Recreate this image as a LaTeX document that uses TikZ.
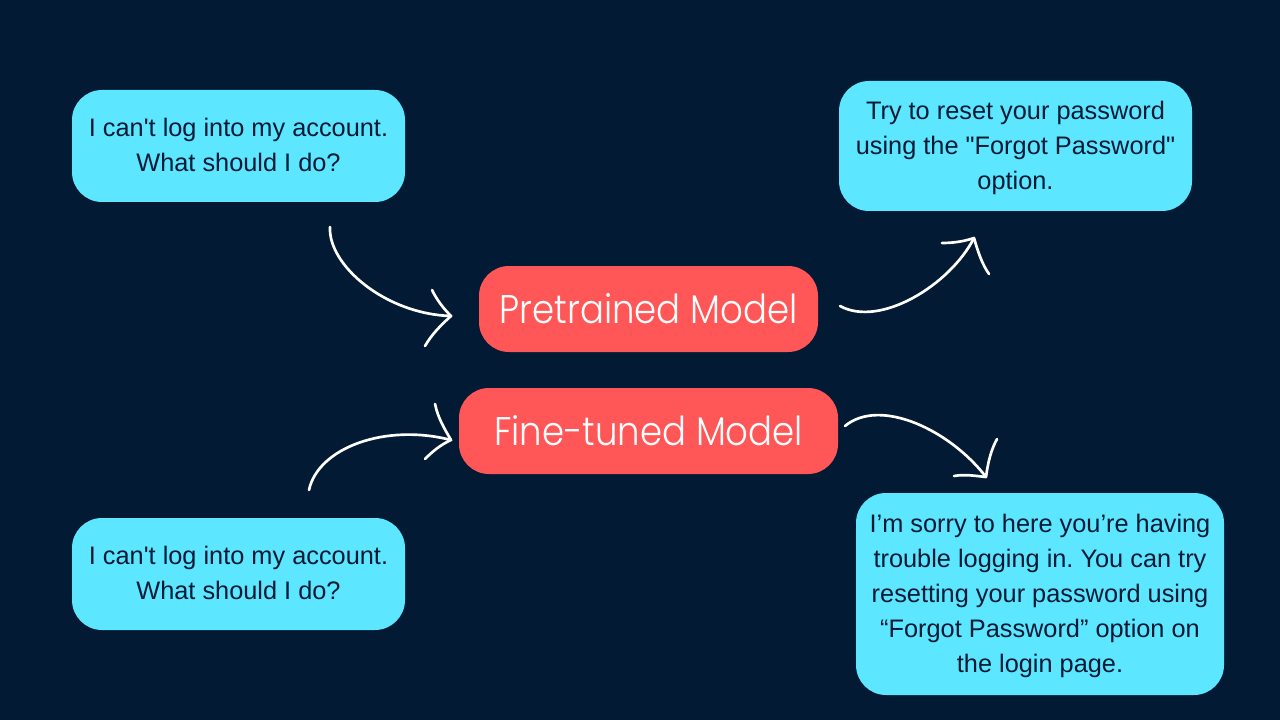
\documentclass[tikz,border=0pt]{standalone}
\usepackage{fontspec}
\newfontfamily\msgfont{Liberation Sans}
\newfontfamily\modelfont[FakeStretch=0.888]{Poppins Light}
\definecolor{bgnavy}{HTML}{021A33}
\definecolor{bubble}{HTML}{5CE6FF}
\definecolor{modelred}{HTML}{FF5757}
\tikzset{
  msgbox/.style={fill=bubble,text=bgnavy,rounded corners=22.5pt,align=center,inner sep=0pt,
    font=\msgfont\frenchspacing\fontsize{19}{26.25}\selectfont},
  modelbox/.style={fill=modelred,text=white,rounded corners=22.5pt,align=center,inner sep=0pt,
    font=\modelfont\fontsize{30}{34}\selectfont},
  sketch/.style={draw=white,line width=2pt,line cap=round,line join=round},
}
\begin{document}
\begin{tikzpicture}[x=0.75pt,y=-0.75pt]
\useasboundingbox (0,0) rectangle (1280,720);
\fill[bgnavy] (0,0) rectangle (1280,720);
\node[msgbox,minimum width=249.75pt,minimum height=84pt] (q1) at (238.5,146) {I can't log into my account.\\What should I do?\rule[-1.5pt]{0pt}{1pt}};
\node[msgbox,minimum width=249.75pt,minimum height=84pt] (q2) at (238.5,574) {I can't log into my account.\\What should I do?\rule[-1.5pt]{0pt}{1pt}};
\node[msgbox,minimum width=264.75pt,minimum height=97.5pt] (a1) at (1015.5,146) {\rule{0pt}{16.2pt}Try to reset your password\\using the "Forgot Password"\\option.};
\node[msgbox,minimum width=276pt,minimum height=151.5pt] (a2) at (1040,594) {\rule{0pt}{16.9pt}I’m sorry to here you’re having\\trouble logging in. You can try\\resetting your password using\\“Forgot Password” option on\\the login page.};
\node[modelbox,minimum width=254.25pt,minimum height=64.5pt] (m1) at (648.5,309) {Pretrained Model\rule[-1.5pt]{0pt}{1pt}};
\node[modelbox,minimum width=284.25pt,minimum height=64.5pt] (m2) at (648.5,431) {Fine-tuned Model\rule[-1.5pt]{0pt}{1pt}};
% free ends of the hand-drawn arrows
\coordinate (s1) at (330,227); \coordinate (t1) at (451,316);
\coordinate (b1a) at (432,290); \coordinate (b1b) at (425,346);
\coordinate (s2) at (309,490); \coordinate (t2) at (451,440);
\coordinate (b2a) at (435,404); \coordinate (b2b) at (425,459);
\coordinate (s3) at (840,306); \coordinate (t3) at (974,238);
\coordinate (b3a) at (942,243); \coordinate (b3b) at (989,274);
\coordinate (s4) at (845,426); \coordinate (t4) at (986,477);
\coordinate (b4a) at (954,476); \coordinate (b4b) at (997,439);
\draw[sketch] (s1) .. controls (328,265) and (385,314) .. (t1);
\draw[sketch] (b1a) .. controls (437,300) and (443,308) .. (t1) .. controls (441,325) and (432,334) .. (b1b);
\draw[sketch] (s2) .. controls (318,448) and (385,423) .. (t2);
\draw[sketch] (b2a) .. controls (438,418) and (444,428) .. (t2) .. controls (440,445) and (432,452) .. (b2b);
\draw[sketch] (s3) .. controls (880,328) and (950,285) .. (t3);
\draw[sketch] (b3a) .. controls (955,243) and (965,241) .. (t3) .. controls (978,252) and (982,264) .. (b3b);
\draw[sketch] (s4) .. controls (880,397) and (950,430) .. (t4);
\draw[sketch] (b4a) .. controls (965,474) and (976,476) .. (t4) .. controls (988,462) and (991,450) .. (b4b);
\end{tikzpicture}
\end{document}
